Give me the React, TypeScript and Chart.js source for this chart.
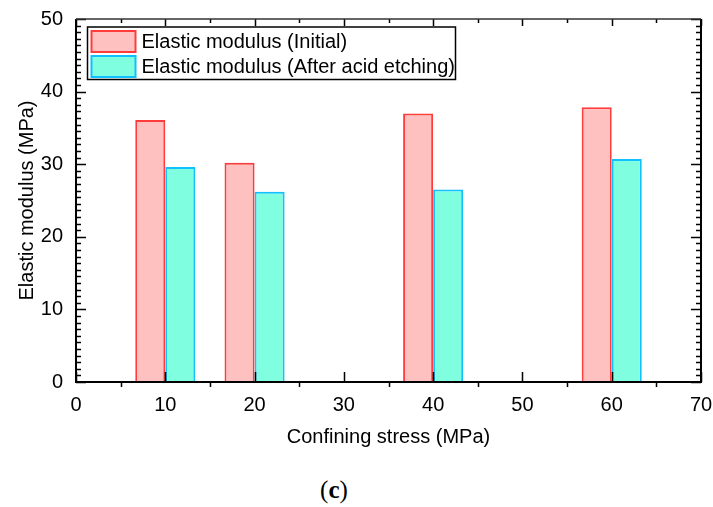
import React, { useEffect, useRef } from "react";
import { Chart, registerables } from "chart.js";

Chart.register(...registerables);

const confiningStress = [10, 20, 40, 60];
const modulusInitial = [36.1, 30.2, 37.0, 37.85];
const modulusAfter = [29.6, 26.2, 26.5, 30.7];
const seriesLabels = ["Elastic modulus (Initial)", "Elastic modulus (After acid etching)"];
const xTitle = "Confining stress (MPa)";
const yTitle = "Elastic modulus (MPa)";
const caption = "c";

const FONT = "'Liberation Sans', Arial, sans-serif";
const FILLS = ["#FFC0C0", "#80FFE0"];
const BORDERS = ["#FF3C3C", "#10C0FF"];

const X_MIN = 0, X_MAX = 70, X_MAJOR = 10, X_MINOR = 5;
const Y_MIN = 0, Y_MAX = 50, Y_MAJOR = 10, Y_MINOR_COUNT = 10;

const frameTicks = {
  id: "frameTicks",
  afterDatasetsDraw(chart: any) {
    const { ctx, chartArea, scales } = chart;
    const { left, right, top, bottom } = chartArea;
    const x = scales.x, y = scales.y;
    ctx.save();
    ctx.strokeStyle = "#000";
    ctx.lineWidth = 1.5;
    ctx.beginPath();
    const yStep = Y_MAJOR / (Y_MINOR_COUNT + 1);
    for (let m = Y_MIN; m < Y_MAX + 0.001; m += Y_MAJOR) {
      for (let k = 0; k <= Y_MINOR_COUNT; k++) {
        const v = m + k * yStep;
        if (v > Y_MAX + 0.001) break;
        const py = Math.round(y.getPixelForValue(v)) + 0.5;
        const len = k === 0 ? 10 : 5;
        ctx.moveTo(left, py); ctx.lineTo(left + len, py);
        ctx.moveTo(right, py); ctx.lineTo(right - len, py);
      }
    }
    for (let v = X_MIN; v <= X_MAX; v += X_MINOR) {
      const px = Math.round(x.getPixelForValue(v)) + 0.5;
      const major = v % X_MAJOR === 0;
      if (major) {
        ctx.moveTo(px, bottom); ctx.lineTo(px, bottom - 10);
        ctx.moveTo(px, top); ctx.lineTo(px, top + 7);
      } else {
        ctx.moveTo(px, bottom); ctx.lineTo(px, bottom + 5);
        ctx.moveTo(px, top); ctx.lineTo(px, top + 4);
      }
    }
    ctx.stroke();
    ctx.lineWidth = 2;
    ctx.beginPath();
    ctx.moveTo(left, top); ctx.lineTo(left, bottom); ctx.lineTo(right, bottom); ctx.lineTo(right, top);
    ctx.stroke();
    ctx.lineWidth = 1.5;
    ctx.strokeStyle = "#333";
    ctx.beginPath();
    ctx.moveTo(left, top); ctx.lineTo(right, top);
    ctx.stroke();
    ctx.restore();
  },
  afterDraw(chart: any) {
    const { ctx, chartArea } = chart;
    const bx = chartArea.left + 11.5, by = chartArea.top + 8;
    const bw = 368, bh = 52.5;
    ctx.save();
    ctx.fillStyle = "#fff";
    ctx.fillRect(bx, by, bw, bh);
    ctx.strokeStyle = "#000";
    ctx.lineWidth = 1.5;
    ctx.strokeRect(bx, by, bw, bh);
    ctx.font = `20px ${FONT}`;
    ctx.textBaseline = "middle";
    chart.data.datasets.forEach((ds: any, i: number) => {
      const py = by + 4 + i * 25;
      ctx.fillStyle = ds.backgroundColor;
      ctx.fillRect(bx + 4, py, 44, 21);
      ctx.strokeStyle = ds.borderColor;
      ctx.lineWidth = 2;
      ctx.strokeRect(bx + 4, py, 44, 21);
      ctx.fillStyle = "#000";
      ctx.fillText(ds.label, bx + 54, py + 11);
    });
    ctx.restore();
  },
};

function ChartView() {
  const ref = useRef<HTMLCanvasElement>(null);
  useEffect(() => {
    const series = [modulusInitial, modulusAfter];
    const chart = new Chart(ref.current!, {
      type: "bar",
      data: {
        datasets: series.map((vals, i) => ({
          label: seriesLabels[i],
          data: confiningStress.map((c, j) => ({ x: c, y: vals[j] })),
          backgroundColor: FILLS[i],
          borderColor: BORDERS[i],
          borderWidth: 2,
          categoryPercentage: 0.673,
          barPercentage: 1,
        })),
      },
      options: {
        animation: false,
        responsive: false,
        maintainAspectRatio: false,
        layout: { padding: { top: 19, right: 12, left: 0, bottom: 0 } },
        plugins: { legend: { display: false }, tooltip: { enabled: false } },
        scales: {
          x: {
            type: "linear",
            min: X_MIN,
            max: X_MAX,
            offset: false,
            grid: { display: false, drawTicks: false, offset: false },
            border: { display: false },
            ticks: { stepSize: X_MAJOR, padding: 11, color: "#000", font: { size: 20, family: FONT } },
            title: { display: true, text: xTitle, color: "#000", font: { size: 20, family: FONT }, padding: { top: 0, bottom: 11 } },
            afterFit: (s: any) => { s.height = 78; s.paddingLeft = 0; s.paddingRight = 0; },
          },
          y: {
            min: Y_MIN,
            max: Y_MAX,
            grid: { display: false, drawTicks: false },
            border: { display: false },
            ticks: { stepSize: Y_MAJOR, padding: 13, color: "#000", font: { size: 20, family: FONT } },
            title: { display: true, text: yTitle, color: "#000", font: { size: 20, family: FONT }, padding: { top: 15, bottom: 0 } },
            afterFit: (s: any) => { s.width = 76; s.paddingTop = 0; s.paddingBottom = 0; },
          },
        },
      },
      plugins: [frameTicks],
    } as any);
    return () => chart.destroy();
  }, []);
  return <canvas ref={ref} width={713} height={460} style={{ display: "block" }} />;
}

export default function App() {
  return (
    <div style={{ position: "fixed", left: 0, top: 0, width: 713, height: 507, background: "#fff" }}>
      <ChartView />
      <div
        style={{
          position: "absolute",
          left: 234,
          width: 200,
          top: 475,
          textAlign: "center",
          fontFamily: "'Liberation Serif', 'Times New Roman', serif",
          fontSize: 25,
          lineHeight: "30px",
          color: "#000",
        }}
      >
        (<b>{caption}</b>)
      </div>
    </div>
  );
}
